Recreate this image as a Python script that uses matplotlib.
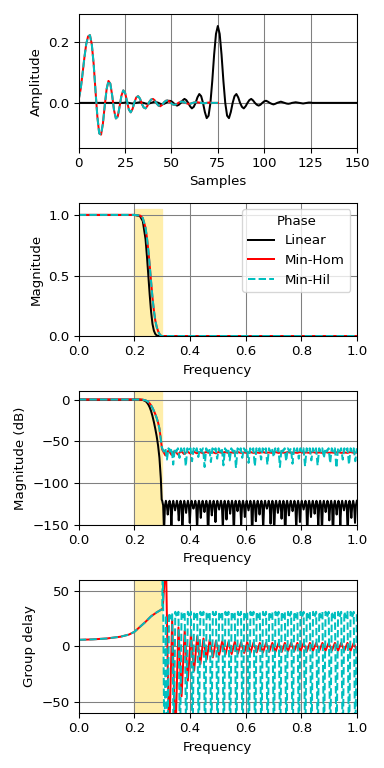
import matplotlib
matplotlib.use('Agg')
import matplotlib.pyplot as plt
import numpy as np

# Impulse responses
samples_lin = list(range(151))
h_linear = [
    0.0, 0.0, 0.0, 0.0, 0.0, 0.0, 0.0, 0.0, 0.0, 0.0,
    0.0, 0.0, 0.0, 0.0, 0.0, 0.0, 0.0, 0.0, 0.0, 0.0,
    0.0, 0.0, 0.0, 0.0, 0.0, 0.001, 0.001, 0.0, -0.001, -0.002,
    -0.001, 0.0, 0.001, 0.002, 0.001, 0.0, -0.002, -0.003, -0.002, 0.0,
    0.002, 0.004, 0.002, 0.0, -0.003, -0.005, -0.003, 0.0, 0.004, 0.007,
    0.005, 0.0, -0.006, -0.009, -0.006, 0.0, 0.008, 0.013, 0.009, 0.0,
    -0.011, -0.018, -0.013, 0.0, 0.018, 0.029, 0.022, 0.0, -0.030, -0.050,
    -0.042, 0.0, 0.072, 0.158, 0.226, 0.252, 0.226, 0.158, 0.072, 0.0,
    -0.042, -0.050, -0.030, 0.0, 0.022, 0.029, 0.018, 0.0, -0.013, -0.018,
    -0.011, 0.0, 0.009, 0.013, 0.008, 0.0, -0.006, -0.009, -0.006, 0.0,
    0.005, 0.007, 0.004, 0.0, -0.003, -0.005, -0.003, 0.0, 0.002, 0.004,
    0.002, 0.0, -0.002, -0.003, -0.002, 0.0, 0.001, 0.002, 0.001, 0.0,
    -0.001, -0.002, -0.001, 0.0, 0.001, 0.001, 0.0, 0.0, 0.0, 0.0,
    0.0, 0.0, 0.0, 0.0, 0.0, 0.0, 0.0, 0.0, 0.0, 0.0,
    0.0, 0.0, 0.0, 0.0, 0.0, 0.0, 0.0, 0.0, 0.0, 0.0,
    0.0,
]
samples_min = list(range(76))
h_min_hom = [
    0.013, 0.045, 0.095, 0.148, 0.193, 0.218, 0.222, 0.192, 0.128, 0.040,
    -0.045, -0.100, -0.104, -0.068, -0.008, 0.045, 0.072, 0.063, 0.024, -0.024,
    -0.051, -0.045, -0.012, 0.024, 0.041, 0.032, 0.005, -0.022, -0.031, -0.020,
    0.002, 0.018, 0.022, 0.014, -0.003, -0.015, -0.018, -0.010, 0.003, 0.011,
    0.013, 0.008, -0.002, -0.009, -0.011, -0.006, 0.002, 0.007, 0.008, 0.004,
    -0.002, -0.006, -0.006, -0.003, 0.001, 0.004, 0.004, 0.002, -0.001, -0.003,
    -0.003, -0.001, 0.001, 0.002, 0.002, 0.001, 0.0, -0.001, -0.001, 0.0,
    0.001, 0.001, 0.0, 0.0, 0.0, 0.0,
]
h_min_hil = [
    0.013, 0.045, 0.095, 0.148, 0.193, 0.218, 0.222, 0.192, 0.128, 0.040,
    -0.045, -0.100, -0.104, -0.068, -0.008, 0.045, 0.072, 0.063, 0.024, -0.024,
    -0.051, -0.045, -0.012, 0.024, 0.041, 0.032, 0.005, -0.022, -0.031, -0.020,
    0.002, 0.018, 0.022, 0.014, -0.003, -0.015, -0.018, -0.010, 0.003, 0.011,
    0.013, 0.008, -0.002, -0.009, -0.011, -0.006, 0.002, 0.007, 0.008, 0.004,
    -0.002, -0.006, -0.006, -0.003, 0.001, 0.004, 0.004, 0.002, -0.001, -0.003,
    -0.003, -0.001, 0.001, 0.002, 0.002, 0.001, 0.0, -0.001, -0.001, 0.0,
    0.001, 0.001, 0.0, 0.0, 0.0, 0.0,
]

# Magnitude (linear) - passband / transition / stopband
freq_lin_mag = [0.0, 0.2, 0.22, 0.23, 0.24, 0.245, 0.25, 0.255, 0.26, 0.265,
                0.27, 0.275, 0.28, 0.285, 0.29, 0.295, 0.30, 1.0]
mag_linear = [1.0, 1.0, 0.99, 0.95, 0.80, 0.66, 0.50, 0.34, 0.20, 0.10,
              0.045, 0.018, 0.006, 0.002, 0.0003, 0.0, 0.0, 0.0]
mag_min = [1.0, 1.0, 0.995, 0.975, 0.894, 0.812, 0.707, 0.583, 0.447, 0.316,
           0.212, 0.130, 0.077, 0.042, 0.018, 0.004, 0.001, 0.001]

# Magnitude (dB) - transitions
freq_db_lin = [0.0, 0.2, 0.22, 0.23, 0.24, 0.245, 0.25, 0.255, 0.26, 0.265,
               0.27, 0.275, 0.28, 0.285, 0.29, 0.295, 0.298]
db_linear_trans = [0.0, 0.0, -0.09, -0.45, -1.9, -3.6, -6.0, -9.4, -14.0, -20.0,
                   -27.0, -35.0, -44.0, -55.0, -70.0, -95.0, -120.0]
freq_db_min = [0.0, 0.2, 0.22, 0.23, 0.24, 0.245, 0.25, 0.255, 0.26, 0.265,
               0.27, 0.275, 0.28, 0.285, 0.29, 0.295, 0.298]
db_min_trans = [0.0, 0.0, -0.05, -0.23, -0.95, -1.8, -3.0, -4.7, -7.0, -10.0,
                -13.5, -17.5, -22.0, -27.5, -35.0, -47.5, -56.0]

# Magnitude (dB) - stopbands, on evenly spaced frequencies from 0.30 to 1.0
db_linear_stop = [
    -121.5, -127, -160, -127, -121.5, -127, -138, -127, -121.5, -127, -152, -127, -121.5, -127, -133, -127,
    -121.5, -127, -145, -127, -121.5, -127, -165, -127, -121.5, -127, -136, -127, -121.5, -127, -148, -127,
    -121.5, -127, -131, -127, -121.5, -127, -158, -127, -121.5, -127, -142, -127, -121.5, -127, -135, -127,
    -121.5, -127, -170, -127, -121.5, -127, -139, -127, -121.5, -127, -147, -127, -121.5, -127, -132, -127,
    -121.5, -127, -155, -127, -121.5, -127, -144, -127, -121.5, -127, -137, -127, -121.5, -127, -162, -127,
    -121.5, -127, -134, -127, -121.5, -127, -150, -127, -121.5, -127, -141, -127, -121.5, -127, -133, -127,
    -121.5, -127, -168, -127, -121.5, -127, -146, -127, -121.5, -127, -138, -127, -121.5, -127, -156, -127,
    -121.5, -127, -131, -127, -121.5, -127, -149, -127, -121.5, -127, -160, -127, -121.5, -127, -136, -127,
    -121.5, -127, -143, -127, -121.5, -127, -172, -127, -121.5, -127, -139, -127, -121.5, -127, -134, -127,
    -121.5, -127, -157, -127, -121.5, -127, -147, -127, -121.5, -127, -132, -127, -121.5, -127, -165, -127,
    -121.5, -127, -141, -127, -121.5, -127, -137, -127, -121.5, -127, -153, -127, -121.5, -127, -160, -127,
    -121.5, -127, -135, -127, -121.5, -127, -145, -127, -121.5, -127, -170, -127, -121.5, -127, -138, -127,
    -121.5, -127, -151, -127, -121.5, -127, -133, -127, -121.5, -127, -163, -127, -121.5, -127, -142, -127,
    -121.5, -127, -148, -127, -121.5,
]
db_hom_stop = [
    -60, -67, -61, -66.5, -61.5, -66, -62, -65.5, -62.5, -65,
    -62.5, -64.5, -63, -64.5, -63, -64, -63, -64.5, -63, -64,
    -63, -64, -63.5, -64, -63, -64, -63.5, -64, -63, -64,
    -63.5, -64, -63, -64, -63.5, -64, -63, -64, -63.5, -64,
    -63, -64, -63.5, -64, -63, -64, -63.5, -64, -63, -64,
    -63.5, -64, -63, -64, -63.5, -64, -63, -64, -63.5, -64,
    -63, -64, -63.5,
]
db_hil_stop = [
    -58.5, -62.5, -58.5, -72, -58.5, -62.5, -58.5, -78, -58.5, -62.5, -58.5, -70,
    -58.5, -62.5, -58.5, -80, -58.5, -62.5, -58.5, -74, -58.5, -62.5, -58.5, -69,
    -58.5, -62.5, -58.5, -81, -58.5, -62.5, -58.5, -75, -58.5, -62.5, -58.5, -71,
    -58.5, -62.5, -58.5, -79, -58.5, -62.5, -58.5, -73, -58.5, -62.5, -58.5, -82,
    -58.5, -62.5, -58.5, -70, -58.5, -62.5, -58.5, -76, -58.5, -62.5, -58.5, -80,
    -58.5, -62.5, -58.5, -72, -58.5, -62.5, -58.5, -78, -58.5, -62.5, -58.5, -69,
    -58.5, -62.5, -58.5, -81, -58.5, -62.5, -58.5, -74, -58.5, -62.5, -58.5, -77,
    -58.5, -62.5, -58.5, -71, -58.5, -62.5, -58.5, -80, -58.5, -62.5, -58.5, -73,
    -58.5, -62.5, -58.5, -79, -58.5, -62.5, -58.5, -70, -58.5, -62.5, -58.5, -76,
    -58.5, -62.5, -58.5, -82, -58.5, -62.5, -58.5, -72, -58.5, -62.5, -58.5, -78,
    -58.5, -62.5, -58.5, -74, -58.5,
]

# Group delay - passband / transition
freq_gd = [0.0, 0.05, 0.1, 0.15, 0.18, 0.2, 0.22, 0.24, 0.26, 0.28, 0.29, 0.30]
gd_min_pass = [5.8, 6.2, 7.0, 8.6, 10.5, 13.0, 17.5, 22.0, 27.0, 30.5, 32.0, 33.5]
freq_gd_linear = [0.0, 1.0]
gd_linear = [75.0, 75.0]

# Group delay - stopbands, evenly spaced frequencies from 0.302 to 1.0
gd_hom_stop = [
    34, 80, -90, 24, -85, 17, -45, 14, -31, 11,
    -22, 9, -16, 7, -12, 6, -10, 5, -8, 4.5,
    -7.5, 4, -7, 4, -6.5, 3.5, -6, 3.5, -6, 3.5,
    -5.5, 3, -5.5, 3, -5, 3, -5, 3, -5, 3,
    -4.5, 3, -4.5, 3, -4.5, 3, -4.5, 3, -4, 3,
    -4, 3, -4, 3, -4, 3, -4, 3, -4, 3,
    -4, 3, -4,
]
gd_hil_stop = [
    80, -95, 28, -95, 30, 25, 30, -95, 31, 26, 31, -95,
    31, 26, 31, -95, 31, 26, 31, -95, 31, 26, 31, -95,
    31, 26, 31, -95, 31, 26, 31, -95, 31, 26, 31, -95,
    31, 26, 31, -95, 31, 26, 31, -95, 31, 26, 31, -95,
    31, 26, 31, -95, 31, 26, 31, -95, 31, 26, 31, -95,
    31, 26, 31, -95, 31, 26, 31, -95, 31, 26, 31, -95,
    31, 26, 31, -95, 31, 26, 31, -95, 31, 26, 31, -95,
    31, 26, 31, -95, 31, 26, 31, -95, 31, 26, 31, -95,
    31, 26, 31, -95, 31, 26, 31, -95, 31, 26, 31, -95,
    31, 26, 31, -95, 31, 26, 31, -95, 31, 26, 31, -95,
    31, 26, 31, -95, 31,
]

band_edges = [0.2, 0.3]
labels = ['Linear', 'Min-Hom', 'Min-Hil']

# Frequency axes for the stopband readings
f_lin_stop = np.linspace(0.30, 1.0, len(db_linear_stop))
f_hom_stop = np.linspace(0.30, 1.0, len(db_hom_stop))
f_hil_stop = np.linspace(0.30, 1.0, len(db_hil_stop))
f_gd_hom = np.linspace(0.302, 1.0, len(gd_hom_stop))
f_gd_hil = np.linspace(0.302, 1.0, len(gd_hil_stop))

fig, axs = plt.subplots(4, figsize=(4, 8), dpi=96)

# Impulse responses
axs[0].plot(samples_lin, h_linear, color='k', linestyle='-')
axs[0].plot(samples_min, h_min_hom, color='r', linestyle='-')
axs[0].plot(samples_min, h_min_hil, color='c', linestyle='--')

# Magnitude
axs[1].plot(freq_lin_mag, mag_linear, color='k', linestyle='-', label=labels[0])
axs[1].plot(freq_lin_mag, mag_min, color='r', linestyle='-', label=labels[1])
axs[1].plot(freq_lin_mag, mag_min, color='c', linestyle='--', label=labels[2])

# Magnitude in dB
axs[2].plot(np.concatenate([freq_db_lin, f_lin_stop]),
            np.concatenate([db_linear_trans, db_linear_stop]), color='k', linestyle='-')
axs[2].plot(np.concatenate([freq_db_min, f_hom_stop]),
            np.concatenate([db_min_trans, db_hom_stop]), color='r', linestyle='-')
axs[2].plot(np.concatenate([freq_db_min, f_hil_stop]),
            np.concatenate([db_min_trans, db_hil_stop]), color='c', linestyle='--')

# Group delay
axs[3].plot(freq_gd_linear, gd_linear, color='k', linestyle='-')
axs[3].plot(np.concatenate([freq_gd, f_gd_hom]),
            np.concatenate([gd_min_pass, gd_hom_stop]), color='r', linestyle='-')
axs[3].plot(np.concatenate([freq_gd, f_gd_hil]),
            np.concatenate([gd_min_pass, gd_hil_stop]), color='c', linestyle='--')

for ax in axs:
    ax.grid(True, color='0.5')

# Transition band shading
for ax, (lo, hi) in zip(axs[1:], ((-0.05, 1.05), (-250, 30), (-500, 500))):
    ax.fill_between(band_edges, lo, hi, color='#ffeeaa', zorder=1)

axs[0].set(xlim=[0, 150], ylim=[-0.147, 0.29], ylabel='Amplitude', xlabel='Samples')
axs[1].legend(title='Phase', loc='upper right')
for ax, ylim in zip(axs[1:], ([0, 1.1], [-150, 10], [-60, 60])):
    ax.set(xlim=[0, 1], ylim=ylim, xlabel='Frequency')
axs[1].set(ylabel='Magnitude')
axs[2].set(ylabel='Magnitude (dB)')
axs[3].set(ylabel='Group delay')

plt.tight_layout()
plt.savefig('out.png', dpi=96)
